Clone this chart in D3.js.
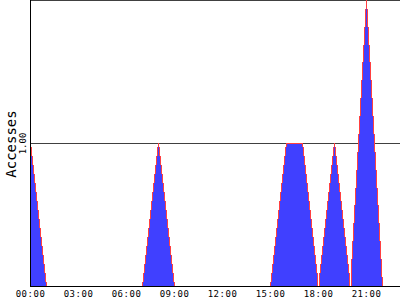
<!DOCTYPE html>
<html lang="en">
    <head>
        <meta charset="utf-8" />
        <title>Accesses</title>
        <style>
            body { margin: 0; background: #fff; }
            svg text { font-family: "DejaVu Sans Mono", monospace; fill: #000; }
        </style>
        <script type="text/javascript" src="https://cdn.jsdelivr.net/npm/d3@7/dist/d3.min.js"></script>
    </head>
    <body>
        <script type="text/javascript">
            // one sample every 3.75 minutes (one pixel column), starting at 00:00
            var stepMinutes = 3.75;
            var xTickLabels = ['00:00', '03:00', '06:00', '09:00', '12:00', '15:00', '18:00', '21:00'];
            var yTicks = [1];

            // one row per hour, 16 samples each
            var accesses = [
                1, .969, .906, .844, .781, .719, .656, .594, .531, .469, .406, .344, .281, .219, .156, .094,   // 00
                .031, 0, 0, 0, 0, 0, 0, 0, 0, 0, 0, 0, 0, 0, 0, 0,                                              // 01
                0, 0, 0, 0, 0, 0, 0, 0, 0, 0, 0, 0, 0, 0, 0, 0,                                                 // 02
                0, 0, 0, 0, 0, 0, 0, 0, 0, 0, 0, 0, 0, 0, 0, 0,                                                 // 03
                0, 0, 0, 0, 0, 0, 0, 0, 0, 0, 0, 0, 0, 0, 0, 0,                                                 // 04
                0, 0, 0, 0, 0, 0, 0, 0, 0, 0, 0, 0, 0, 0, 0, 0,                                                 // 05
                0, 0, 0, 0, 0, 0, 0, 0, 0, 0, 0, 0, 0, 0, 0, 0,                                                 // 06
                .031, .094, .156, .219, .281, .344, .406, .469, .531, .594, .656, .719, .781, .844, .906, .969, // 07
                1, .969, .906, .844, .781, .719, .656, .594, .531, .469, .406, .344, .281, .219, .156, .094,   // 08
                .031, 0, 0, 0, 0, 0, 0, 0, 0, 0, 0, 0, 0, 0, 0, 0,                                              // 09
                0, 0, 0, 0, 0, 0, 0, 0, 0, 0, 0, 0, 0, 0, 0, 0,                                                 // 10
                0, 0, 0, 0, 0, 0, 0, 0, 0, 0, 0, 0, 0, 0, 0, 0,                                                 // 11
                0, 0, 0, 0, 0, 0, 0, 0, 0, 0, 0, 0, 0, 0, 0, 0,                                                 // 12
                0, 0, 0, 0, 0, 0, 0, 0, 0, 0, 0, 0, 0, 0, 0, 0,                                                 // 13
                0, 0, 0, 0, 0, 0, 0, 0, 0, 0, 0, 0, 0, 0, 0, 0,                                                 // 14
                .031, .094, .156, .219, .281, .344, .406, .469, .531, .594, .656, .719, .781, .844, .906, .969, // 15
                1, 1, 1, 1, 1, 1, 1, 1, 1, 1, 1, 1, 1, 1, 1, 1,                                                 // 16
                1, .969, .906, .844, .781, .719, .656, .594, .531, .469, .406, .344, .281, .219, .156, .094,   // 17
                0, .094, .156, .219, .281, .344, .406, .469, .531, .594, .656, .719, .781, .844, .906, .969,   // 18
                1, .969, .906, .844, .781, .719, .656, .594, .531, .469, .406, .344, .281, .219, .156, .094,   // 19
                0, .188, .313, .438, .563, .688, .813, .938, 1.063, 1.188, 1.313, 1.438, 1.563, 1.688, 1.813, 1.938, // 20
                2, 1.938, 1.813, 1.688, 1.563, 1.438, 1.313, 1.188, 1.063, .938, .813, .688, .563, .438, .313, .188, // 21
                .063, 0, 0, 0, 0, 0, 0, 0, 0, 0, 0, 0, 0, 0, 0, 0,                                              // 22
                0, 0                                                                                            // 23
            ];

            var width = 400,
                height = 300,
                left = 30,
                bottom = 286;

            var parseTime = d3.timeParse('%H:%M');
            var t0 = parseTime('00:00');
            var stepMs = stepMinutes * 60000;

            var points = accesses.map(function(v, i) {
                return { t: new Date(t0.getTime() + i * stepMs), v: v };
            });
            var tEnd = new Date(t0.getTime() + accesses.length * stepMs);

            var x = d3.scaleTime().domain([t0, tEnd]).range([left, width]);
            var y = d3.scaleLinear().domain([0, 2]).range([bottom, 0]);

            var svg = d3.select('body')
                        .append('svg')
                        .attr('width', width)
                        .attr('height', height);

            // grid lines (1.00 and the top one at 2.00)
            svg.append('g')
                .selectAll('line')
                .data([1, 2])
                .enter()
                .append('line')
                .attr('x1', left)
                .attr('x2', width)
                .attr('y1', function(d) { return Math.round(y(d)) + 0.5; })
                .attr('y2', function(d) { return Math.round(y(d)) + 0.5; })
                .attr('stroke', '#404040')
                .attr('stroke-width', 1);

            // blue area, one step per sample
            var area = d3.area()
                .x(function(d) { return x(d.t); })
                .y0(y(0))
                .y1(function(d) { return y(d.v); })
                .curve(d3.curveStepAfter);

            svg.append('path')
                .datum(points.concat([{ t: tEnd, v: 0 }]))
                .attr('d', area)
                .attr('fill', '#4040ff')
                .attr('shape-rendering', 'crispEdges');

            // red line: in each column it runs from the lowest neighbour up to the value
            svg.append('g')
                .selectAll('rect')
                .data(points.filter(function(d) { return d.v > 0; }))
                .enter()
                .append('rect')
                .attr('x', function(d) { return x(d.t); })
                .attr('width', function(d) { return x(new Date(d.t.getTime() + stepMs)) - x(d.t); })
                .attr('y', function(d) { return y(d.v); })
                .attr('height', function(d) {
                    var i = points.indexOf(d);
                    var prev = i > 0 ? points[i - 1].v : d.v;
                    var next = i < points.length - 1 ? points[i + 1].v : d.v;
                    var lo = Math.min(prev, next, d.v);
                    return Math.max(1, y(lo) - y(d.v));
                })
                .attr('fill', '#ff4040')
                .attr('shape-rendering', 'crispEdges');

            // x axis
            var xAxis = d3.axisBottom(x)
                .tickValues(xTickLabels.map(parseTime))
                .tickFormat(d3.timeFormat('%H:%M'))
                .tickSize(0)
                .tickSizeOuter(0)
                .tickPadding(4);

            var gx = svg.append('g')
                .attr('transform', 'translate(0,' + (bottom + 0.5) + ')')
                .call(xAxis);
            gx.select('.domain').attr('stroke', '#000').attr('d', 'M' + left + ',0H' + width);
            gx.selectAll('text')
                .attr('font-family', '"DejaVu Sans Mono", monospace')
                .attr('font-size', 9)
                .attr('letter-spacing', '0.5px')
                .attr('fill', '#000');

            // y axis
            var yAxis = d3.axisLeft(y)
                .tickValues(yTicks)
                .tickFormat(d3.format('.2f'))
                .tickSize(0)
                .tickSizeOuter(0);

            var gy = svg.append('g')
                .attr('transform', 'translate(' + (left + 0.5) + ',0)')
                .call(yAxis);
            gy.select('.domain').attr('stroke', '#000').attr('d', 'M0,0V' + (bottom + 0.5));
            gy.selectAll('.tick text')
                .attr('font-family', '"DejaVu Sans Mono", monospace')
                .attr('font-size', 9)
                .attr('fill', '#000')
                .attr('x', null)
                .attr('dy', null)
                .attr('text-anchor', 'middle')
                .attr('transform', 'translate(-4.5,0) rotate(-90)');

            svg.append('text')
                .attr('transform', 'translate(15.5,144) rotate(-90)')
                .attr('text-anchor', 'middle')
                .attr('font-family', '"DejaVu Sans", sans-serif')
                .attr('font-size', 14)
                .text('Accesses');
        </script>
    </body>
</html>
